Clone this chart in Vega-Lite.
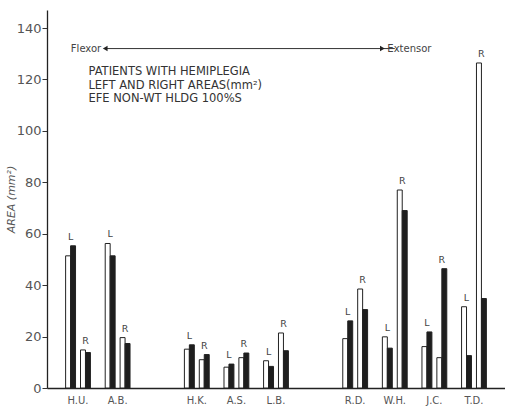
{
  "$schema": "https://vega.github.io/schema/vega-lite/v6.json",
  "width": 458,
  "height": 378,
  "autosize": {"type": "none"},
  "padding": {"left": 47, "top": 10, "right": 0, "bottom": 18},
  "background": "white",
  "config": {"view": {"stroke": null}, "font": "DejaVu Sans"},
  "datasets": {
    "areas": [
      {"patient": "H.U.", "side": "L", "trial": 1, "area": 51.4},
      {"patient": "H.U.", "side": "L", "trial": 2, "area": 55.3},
      {"patient": "H.U.", "side": "R", "trial": 1, "area": 14.8},
      {"patient": "H.U.", "side": "R", "trial": 2, "area": 13.8},
      {"patient": "A.B.", "side": "L", "trial": 1, "area": 56.2},
      {"patient": "A.B.", "side": "L", "trial": 2, "area": 51.4},
      {"patient": "A.B.", "side": "R", "trial": 1, "area": 19.6},
      {"patient": "A.B.", "side": "R", "trial": 2, "area": 17.3},
      {"patient": "H.K.", "side": "L", "trial": 1, "area": 15.1},
      {"patient": "H.K.", "side": "L", "trial": 2, "area": 16.8},
      {"patient": "H.K.", "side": "R", "trial": 1, "area": 11.0},
      {"patient": "H.K.", "side": "R", "trial": 2, "area": 13.0},
      {"patient": "A.S.", "side": "L", "trial": 1, "area": 8.1},
      {"patient": "A.S.", "side": "L", "trial": 2, "area": 9.3},
      {"patient": "A.S.", "side": "R", "trial": 1, "area": 11.8},
      {"patient": "A.S.", "side": "R", "trial": 2, "area": 13.6},
      {"patient": "L.B.", "side": "L", "trial": 1, "area": 10.6},
      {"patient": "L.B.", "side": "L", "trial": 2, "area": 8.4},
      {"patient": "L.B.", "side": "R", "trial": 1, "area": 21.4},
      {"patient": "L.B.", "side": "R", "trial": 2, "area": 14.5},
      {"patient": "R.D.", "side": "L", "trial": 1, "area": 19.2},
      {"patient": "R.D.", "side": "L", "trial": 2, "area": 26.1},
      {"patient": "R.D.", "side": "R", "trial": 1, "area": 38.5},
      {"patient": "R.D.", "side": "R", "trial": 2, "area": 30.5},
      {"patient": "W.H.", "side": "L", "trial": 1, "area": 19.9},
      {"patient": "W.H.", "side": "L", "trial": 2, "area": 15.5},
      {"patient": "W.H.", "side": "R", "trial": 1, "area": 77.0},
      {"patient": "W.H.", "side": "R", "trial": 2, "area": 69.0},
      {"patient": "J.C.", "side": "L", "trial": 1, "area": 16.1},
      {"patient": "J.C.", "side": "L", "trial": 2, "area": 21.8},
      {"patient": "J.C.", "side": "R", "trial": 1, "area": 11.8},
      {"patient": "J.C.", "side": "R", "trial": 2, "area": 46.4},
      {"patient": "T.D.", "side": "L", "trial": 1, "area": 31.6},
      {"patient": "T.D.", "side": "L", "trial": 2, "area": 12.6},
      {"patient": "T.D.", "side": "R", "trial": 1, "area": 126.4},
      {"patient": "T.D.", "side": "R", "trial": 2, "area": 34.8}
    ],
    "notes": [
      {"patient": "H.U.", "area": 123, "text": "PATIENTS WITH HEMIPLEGIA"},
      {"patient": "H.U.", "area": 117.6, "text": "LEFT AND RIGHT AREAS(mm²)"},
      {"patient": "H.U.", "area": 112.4, "text": "EFE NON-WT HLDG 100%S"}
    ],
    "direction": [
      {"patient": "A.B.", "patient_end": "W.H.", "area": 132}
    ],
    "arrowheads": [
      {"patient": "A.B.", "area": 132, "dir": "left", "text": "Flexor"},
      {"patient": "W.H.", "area": 132, "dir": "right", "text": "Extensor"}
    ]
  },
  "encoding": {
    "x": {
      "field": "patient",
      "type": "nominal",
      "sort": null,
      "scale": {
        "domain": ["H.U.", "A.B.", " ", "H.K.", "A.S.", "L.B.", "  ", "R.D.", "W.H.", "J.C.", "T.D."],
        "paddingInner": 0.373,
        "paddingOuter": 0.47
      },
      "axis": {
        "title": null,
        "ticks": false,
        "labelAngle": 0,
        "labelFontSize": 10,
        "labelColor": "#555",
        "labelPadding": 7,
        "domainColor": "#222",
        "domainWidth": 1.3
      }
    }
  },
  "layer": [
    {
      "data": {"name": "areas"},
      "transform": [{"calculate": "datum.side + datum.trial", "as": "slot"}],
      "mark": {"type": "bar", "stroke": "#222", "strokeWidth": 1},
      "encoding": {
        "xOffset": {
          "field": "slot",
          "type": "nominal",
          "scale": {"domain": ["L1", "L2", "gap", "R1", "R2"], "paddingInner": 0, "paddingOuter": 0}
        },
        "y": {
          "field": "area",
          "type": "quantitative",
          "scale": {"domain": [0, 147], "nice": false},
          "axis": {
            "title": "AREA (mm²)",
            "titleFontStyle": "italic",
            "titleFontWeight": "normal",
            "titleFontSize": 11,
            "titleColor": "#555",
            "titlePadding": 0,
            "values": [0, 10, 20, 30, 40, 50, 60, 70, 80, 90, 100, 110, 120, 130, 140],
            "labelExpr": "datum.value % 20 === 0 ? datum.label : ''",
            "labelFontSize": 13,
            "labelColor": "#555",
            "labelPadding": 1,
            "tickSize": 5,
            "tickColor": "#333",
            "domainColor": "#222",
            "domainWidth": 1.3,
            "grid": false
          }
        },
        "fill": {
          "field": "trial",
          "type": "nominal",
          "scale": {"domain": [1, 2], "range": ["#ffffff", "#1e1e1e"]},
          "legend": null
        }
      }
    },
    {
      "data": {"name": "areas"},
      "transform": [
        {"joinaggregate": [{"op": "max", "field": "area", "as": "top"}], "groupby": ["patient", "side"]},
        {"filter": "datum.trial === 2"},
        {"calculate": "datum.side + datum.trial", "as": "slot"}
      ],
      "mark": {"type": "text", "fontSize": 9.5, "fill": "#444", "baseline": "bottom", "dx": -2.5, "dy": -4},
      "encoding": {
        "xOffset": {"field": "slot", "type": "nominal"},
        "y": {"field": "top", "type": "quantitative"},
        "text": {"field": "side"}
      }
    },
    {
      "data": {"name": "notes"},
      "mark": {"type": "text", "align": "left", "baseline": "middle", "fontSize": 11.5, "fill": "#333", "dx": -2},
      "encoding": {
        "x": {"field": "patient", "type": "nominal", "bandPosition": 1},
        "y": {"field": "area", "type": "quantitative"},
        "text": {"field": "text"}
      }
    },
    {
      "data": {"name": "direction"},
      "mark": {"type": "rule", "color": "#333", "strokeWidth": 1},
      "encoding": {
        "x": {"field": "patient", "type": "nominal", "bandPosition": 0},
        "x2": {"field": "patient_end"},
        "y": {"field": "area", "type": "quantitative"}
      }
    },
    {
      "data": {"name": "arrowheads"},
      "mark": {"type": "point", "filled": true, "color": "#222", "size": 30, "opacity": 1},
      "encoding": {
        "x": {"field": "patient", "type": "nominal", "bandPosition": 0},
        "y": {"field": "area", "type": "quantitative"},
        "shape": {
          "field": "dir",
          "type": "nominal",
          "scale": {"domain": ["left", "right"], "range": ["triangle-left", "triangle-right"]},
          "legend": null
        }
      }
    },
    {
      "data": {"name": "arrowheads"},
      "transform": [{"filter": "datum.dir === 'left'"}],
      "mark": {"type": "text", "align": "right", "baseline": "middle", "fontSize": 10, "fill": "#444", "dx": -4},
      "encoding": {
        "x": {"field": "patient", "type": "nominal", "bandPosition": 0},
        "y": {"field": "area", "type": "quantitative"},
        "text": {"field": "text"}
      }
    },
    {
      "data": {"name": "arrowheads"},
      "transform": [{"filter": "datum.dir === 'right'"}],
      "mark": {"type": "text", "align": "left", "baseline": "middle", "fontSize": 10, "fill": "#444", "dx": 5},
      "encoding": {
        "x": {"field": "patient", "type": "nominal", "bandPosition": 0},
        "y": {"field": "area", "type": "quantitative"},
        "text": {"field": "text"}
      }
    }
  ]
}
